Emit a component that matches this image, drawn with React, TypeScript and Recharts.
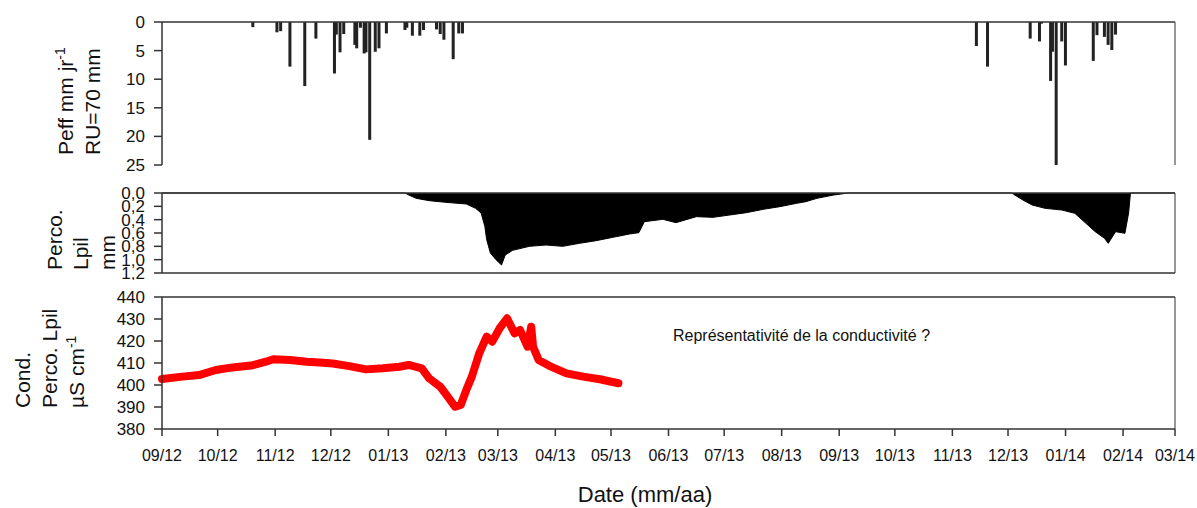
import {
  BarChart,
  Bar,
  AreaChart,
  Area,
  LineChart,
  Line,
  XAxis,
  YAxis,
  ReferenceLine,
} from 'recharts'

// monthly ticks, 09/12 -> 03/14
const monthTicks = [
  '2012-09-01', '2012-10-01', '2012-11-01', '2012-12-01', '2013-01-01',
  '2013-02-01', '2013-03-01', '2013-04-01', '2013-05-01', '2013-06-01',
  '2013-07-01', '2013-08-01', '2013-09-01', '2013-10-01', '2013-11-01',
  '2013-12-01', '2014-01-01', '2014-02-01', '2014-03-01',
]

// effective rainfall (mm/day), RU = 70 mm
const peffDates = [
  '2012-10-20', '2012-11-02', '2012-11-04', '2012-11-09', '2012-11-17',
  '2012-11-23', '2012-12-03', '2012-12-04', '2012-12-06', '2012-12-08',
  '2012-12-14', '2012-12-15', '2012-12-17', '2012-12-19', '2012-12-20',
  '2012-12-22', '2012-12-25', '2012-12-27', '2012-12-31', '2013-01-10',
  '2013-01-11', '2013-01-14', '2013-01-18', '2013-01-20', '2013-01-27',
  '2013-01-29', '2013-01-31', '2013-02-05', '2013-02-08', '2013-02-10',
  '2013-11-14', '2013-11-20', '2013-12-13', '2013-12-18', '2013-12-19',
  '2013-12-24', '2013-12-25', '2013-12-27', '2013-12-30', '2014-01-01',
  '2014-01-16', '2014-01-18', '2014-01-22', '2014-01-24', '2014-01-26',
  '2014-01-28',
]
const peffValues = [
  0.9, 1.8, 1.6, 7.8, 11.2,
  2.9, 9.0, 2.2, 5.3, 2.1,
  4.0, 4.6, 1.0, 5.5, 5.3,
  20.6, 5.2, 4.6, 2.0, 1.4,
  1.0, 2.4, 2.4, 1.4, 1.3,
  2.1, 3.1, 6.5, 2.0, 2.0,
  4.2, 7.8, 2.9, 3.4, 0.3,
  10.3, 5.2, 25.0, 3.4, 7.6,
  6.8, 2.3, 2.6, 4.0, 4.9,
  2.2,
]

// percolation Lpil (mm)
const percoDates = [
  '2012-09-01', '2013-01-10', '2013-01-12', '2013-01-16', '2013-01-23',
  '2013-02-01', '2013-02-12', '2013-02-17', '2013-02-20', '2013-02-22',
  '2013-02-23', '2013-02-25', '2013-02-28', '2013-03-03', '2013-03-05',
  '2013-03-09', '2013-03-18', '2013-03-27', '2013-04-05', '2013-04-14',
  '2013-04-23', '2013-05-02', '2013-05-11', '2013-05-16', '2013-05-19',
  '2013-05-29', '2013-06-05', '2013-06-16', '2013-06-25', '2013-07-04',
  '2013-07-13', '2013-07-22', '2013-07-31', '2013-08-09', '2013-08-14',
  '2013-08-20', '2013-08-29', '2013-09-06', '2013-12-03', '2013-12-04',
  '2013-12-09', '2013-12-14', '2013-12-21', '2013-12-30', '2014-01-06',
  '2014-01-12', '2014-01-17', '2014-01-22', '2014-01-24', '2014-01-28',
  '2014-02-02', '2014-02-04', '2014-02-05', '2014-03-01',
]
const percoValues = [
  0, 0, 0.03, 0.08, 0.115,
  0.14, 0.165, 0.23, 0.3, 0.5,
  0.7, 0.9, 1.0, 1.08, 0.93,
  0.86, 0.8, 0.78, 0.8, 0.755,
  0.715, 0.665, 0.615, 0.595, 0.43,
  0.395, 0.445, 0.355, 0.365, 0.33,
  0.295, 0.245, 0.205, 0.155, 0.13,
  0.08, 0.03, 0, 0, 0.02,
  0.105, 0.18, 0.23, 0.255, 0.305,
  0.455, 0.58, 0.68, 0.755, 0.58,
  0.605, 0.3, 0, 0,
]

// conductivity of percolated water (µS/cm)
const condDates = [
  '2012-09-01', '2012-09-12', '2012-09-21', '2012-09-30', '2012-10-09',
  '2012-10-20', '2012-10-27', '2012-10-31', '2012-11-09', '2012-11-18',
  '2012-11-25', '2012-12-02', '2012-12-11', '2012-12-20', '2012-12-29',
  '2013-01-07', '2013-01-12', '2013-01-19', '2013-01-23', '2013-01-29',
  '2013-02-02', '2013-02-06', '2013-02-09', '2013-02-12', '2013-02-15',
  '2013-02-19', '2013-02-23', '2013-02-26', '2013-03-02', '2013-03-06',
  '2013-03-10', '2013-03-13', '2013-03-17', '2013-03-19', '2013-03-20',
  '2013-03-23', '2013-03-29', '2013-04-07', '2013-04-16', '2013-04-25',
  '2013-05-05',
]
const condValues = [
  402.7, 403.8, 404.5, 406.8, 408.0,
  409.0, 410.6, 411.7, 411.4, 410.6,
  410.2, 409.8, 408.6, 407.1, 407.6,
  408.3, 409.1, 407.6, 403.0, 399.2,
  394.7, 390.1, 390.9, 397.7, 403.8,
  414.4, 422.0, 419.7, 425.8, 430.3,
  423.5, 425.0, 417.4, 426.5, 417.4,
  411.4, 408.6, 405.3, 403.8, 402.6,
  400.8,
]

const peffData = peffDates.map((d, i) => ({ t: Date.parse(d), peff: peffValues[i] }))
const percoData = percoDates.map((d, i) => ({ t: Date.parse(d), perco: percoValues[i] }))
const condData = condDates.map((d, i) => ({ t: Date.parse(d), cond: condValues[i] }))
const xTicks = monthTicks.map((d) => Date.parse(d))
const tStart = xTicks[0]
const tEnd = xTicks[xTicks.length - 1]

const FONT = '"Liberation Sans", Arial, sans-serif'
const AXIS = '#333'
const xTickStyle = { fontSize: 16, fill: '#111', fontFamily: FONT }
const yTickStyle = { fontSize: 17, fill: '#111', fontFamily: FONT }

const fmtMonth = (t: number) => {
  const d = new Date(t)
  const mm = String(d.getUTCMonth() + 1).padStart(2, '0')
  const yy = String(d.getUTCFullYear() % 100).padStart(2, '0')
  return `${mm}/${yy}`
}

// fixed 3px wide bar centred on the day, works for the reversed axis too
const DayBar = (props: any) => {
  const { x, y, width, height } = props
  if (x == null || y == null) return null
  const top = Math.min(y, y + height)
  const h = Math.abs(height)
  return <rect x={x + width / 2 - 1.5} y={top} width={3} height={h} fill="#222" />
}

const W = 1197
const YW = 162
const RIGHT = 22

export default function App() {
  return (
    <div style={{ position: 'absolute', left: 0, top: 0, width: W, height: 508, background: '#fff' }}>
      <div style={{ position: 'absolute', left: 0, top: 0 }}>
        <BarChart width={W} height={175} data={peffData} margin={{ top: 22, right: RIGHT, bottom: 10, left: 0 }}>
          <XAxis type="number" dataKey="t" domain={[tStart, tEnd]} ticks={xTicks} hide />
          <YAxis
            reversed
            domain={[0, 25]}
            ticks={[0, 5, 10, 15, 20, 25]}
            interval={0}
            width={YW}
            tick={yTickStyle}
            tickSize={8}
            tickMargin={9}
            stroke={AXIS}
            strokeWidth={1.5}
          />
          <ReferenceLine y={0} stroke={AXIS} strokeWidth={1.5} />
          <ReferenceLine x={tEnd} stroke={AXIS} strokeWidth={1} />
          <Bar dataKey="peff" fill="#222" barSize={3} shape={DayBar} isAnimationActive={false} />
        </BarChart>
      </div>

      <div style={{ position: 'absolute', left: 0, top: 180 }}>
        <AreaChart width={W} height={100} data={percoData} margin={{ top: 13, right: RIGHT, bottom: 7, left: 0 }}>
          <XAxis type="number" dataKey="t" domain={[tStart, tEnd]} ticks={xTicks} hide />
          <YAxis
            reversed
            domain={[0, 1.2]}
            ticks={[0, 0.2, 0.4, 0.6, 0.8, 1.0, 1.2]}
            interval={0}
            tickFormatter={(v: number) => v.toFixed(1).replace('.', ',')}
            width={YW}
            tick={yTickStyle}
            tickSize={8}
            tickMargin={9}
            stroke={AXIS}
            strokeWidth={1.5}
          />
          <Area
            type="linear"
            dataKey="perco"
            stroke="#000"
            strokeWidth={1}
            fill="#000"
            fillOpacity={1}
            isAnimationActive={false}
          />
          <ReferenceLine y={0} stroke={AXIS} strokeWidth={1.5} />
          <ReferenceLine y={1.2} stroke={AXIS} strokeWidth={1.5} />
          <ReferenceLine x={tEnd} stroke={AXIS} strokeWidth={1} />
        </AreaChart>
      </div>

      <div style={{ position: 'absolute', left: 0, top: 280 }}>
        <LineChart width={W} height={228} data={condData} margin={{ top: 17, right: RIGHT, bottom: 0, left: 0 }}>
          <XAxis
            type="number"
            dataKey="t"
            domain={[tStart, tEnd]}
            ticks={xTicks}
            interval={0}
            tickFormatter={fmtMonth}
            height={79}
            tick={xTickStyle}
            tickSize={7}
            tickMargin={14}
            stroke={AXIS}
            strokeWidth={1.5}
          />
          <YAxis
            domain={[380, 440]}
            ticks={[380, 390, 400, 410, 420, 430, 440]}
            interval={0}
            width={YW}
            tick={yTickStyle}
            tickSize={8}
            tickMargin={9}
            stroke={AXIS}
            strokeWidth={1.5}
          />
          <ReferenceLine y={440} stroke={AXIS} strokeWidth={1.5} />
          <ReferenceLine x={tEnd} stroke={AXIS} strokeWidth={1} />
          <Line
            type="linear"
            dataKey="cond"
            stroke="#ff0000"
            strokeWidth={8}
            strokeLinejoin="round"
            strokeLinecap="round"
            dot={false}
            isAnimationActive={false}
          />
        </LineChart>
      </div>

      <svg
        width={W}
        height={508}
        style={{ position: 'absolute', left: 0, top: 0, pointerEvents: 'none' }}
        fontFamily={FONT}
        fill="#111"
      >
        <text transform="translate(73,155) rotate(-90)" fontSize={21}>
          Peff mm jr<tspan dy={-8} fontSize={14}>-1</tspan>
        </text>
        <text transform="translate(100,155) rotate(-90)" fontSize={21}>RU=70 mm</text>

        <text transform="translate(62,270) rotate(-90)" fontSize={21}>Perco.</text>
        <text transform="translate(88,270) rotate(-90)" fontSize={21}>Lpil</text>
        <text transform="translate(115,270) rotate(-90)" fontSize={21}>mm</text>

        <text transform="translate(30,408) rotate(-90)" fontSize={21}>Cond.</text>
        <text transform="translate(57,408) rotate(-90)" fontSize={21}>Perco. Lpil</text>
        <text transform="translate(84,408) rotate(-90)" fontSize={21}>
          µS cm<tspan dy={-8} fontSize={14}>-1</tspan>
        </text>

        <text x={673} y={341} fontSize={16}>Représentativité de la conductivité ?</text>
        <text x={645} y={502} fontSize={22} textAnchor="middle">Date (mm/aa)</text>
      </svg>
    </div>
  )
}
